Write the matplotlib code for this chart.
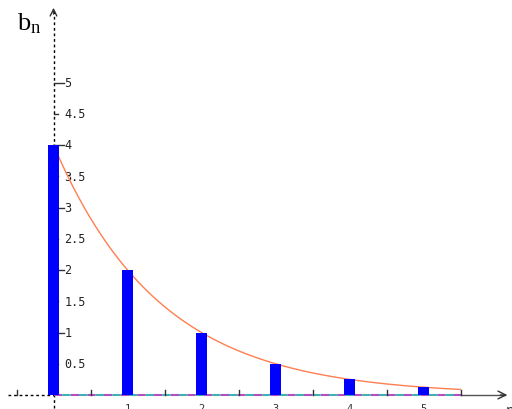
import numpy as np
import matplotlib.pyplot as plt

# data
n_values = [0, 1, 2, 3, 4, 5]
b_values = [4, 2, 1, 0.5, 0.25, 0.125]
y_ticks = [0.5, 1, 1.5, 2, 2.5, 3, 3.5, 4, 4.5, 5]
y_tick_labels = ['0.5', '1', '1.5', '2', '2.5', '3', '3.5', '4', '4.5', '5']
x_ticks = [1, 2, 3, 4, 5]
x_minor = [-0.5, 0.5, 1.5, 2.5, 3.5, 4.5, 5.5]

fig = plt.figure(figsize=(5.12, 4.10), dpi=100)
ax = fig.add_axes([0, 0, 1, 1])
ax.axis('off')

# pixel mapping: x=0 at px 53.5, 74 px per unit; y=0 at px 396, 62.5 px per unit
px_x = 74.0
px_y = 62.5
ax.set_xlim(-53.5 / px_x, (512 - 53.5) / px_x)
ax.set_ylim(-14 / px_y, 396 / px_y)

# axes
ax.plot([-0.62, 0], [0, 0], color='black', lw=1, ls=(0, (2, 2)), zorder=1)
ax.plot([5.5, 6.1], [0, 0], color='#555555', lw=1, zorder=1)
ax.annotate('', xy=(6.17, 0), xytext=(6.0, 0),
            arrowprops=dict(arrowstyle='->', color='#333333', lw=1, mutation_scale=14))
ax.plot([0, 0], [-0.2, 6.2], color='black', lw=1, ls=(0, (2, 2)), zorder=1)
ax.annotate('', xy=(0, 6.24), xytext=(0, 6.05),
            arrowprops=dict(arrowstyle='->', color='#333333', lw=1, mutation_scale=12))

# dashed baseline (purple / teal)
ax.plot([0, 5.5], [0, 0], color='#b050c0', lw=1.5, ls=(0, (4, 4)), zorder=2)
ax.plot([0, 5.5], [0, 0], color='#40b0b0', lw=1.5, ls=(4, (4, 4)), zorder=2)

# x ticks
for t in x_minor:
    ax.plot([t, t], [0, 5 / px_y], color='#333333', lw=1, zorder=2)
for t in x_ticks:
    ax.text(t, -8 / px_y, str(t), ha='center', va='top', fontsize=7.5,
            family='DejaVu Sans Mono', color='#333333')
ax.text(6.17, -8 / px_y, 'n', ha='center', va='top', fontsize=10, color='#333333')

# y ticks
for t, lab in zip(y_ticks, y_tick_labels):
    ln = 10 if float(t).is_integer() else 4
    ax.plot([0, ln / px_x], [t, t], color='#333333', lw=1, zorder=2)
    ax.text(11 / px_x, t, lab, ha='left', va='center', fontsize=8.5,
            family='DejaVu Sans Mono', color='#222222', zorder=2)

# curve
xs = np.linspace(0, 5.5, 200)
ax.plot(xs, 4 * 0.5 ** xs, color='#ff7f50', lw=1, zorder=3)

# bars
ax.bar(n_values, b_values, width=0.15, color='#0000ff', zorder=4)

ax.text(-37 / px_x, 5.95, '$\\mathregular{b_n}$', fontsize=19,
        family='Liberation Serif', ha='left', va='center')

fig.savefig('out.png', dpi=100)
